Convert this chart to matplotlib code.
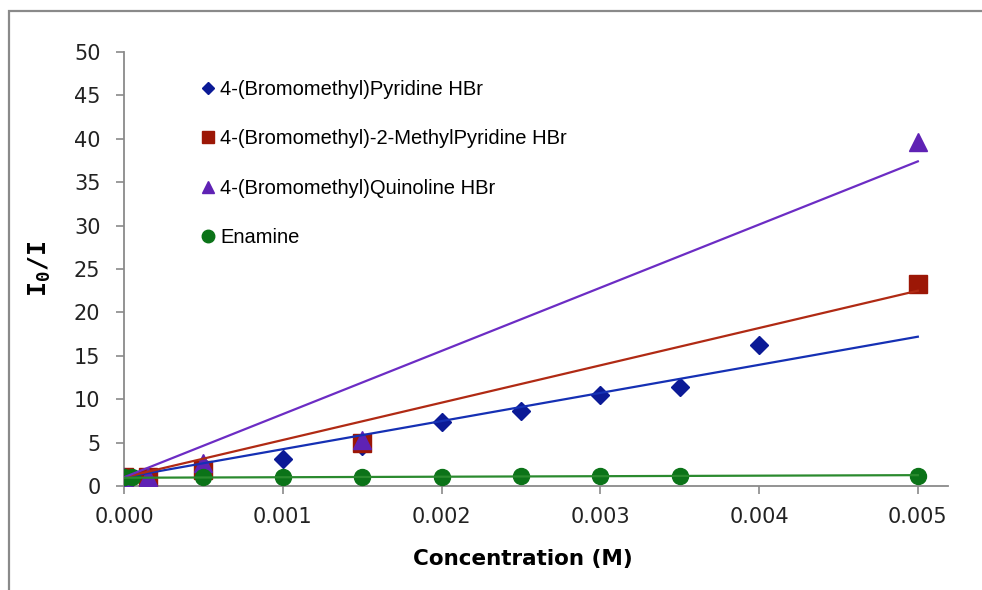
import matplotlib.pyplot as plt
from matplotlib.lines import Line2D
from matplotlib.patches import Rectangle

# data (concentration in M, I0/I)
pyr_x = [0.0, 0.00015, 0.0005, 0.001, 0.0015, 0.002, 0.0025, 0.003, 0.0035, 0.004]
pyr_y = [1.0, 1.1, 2.3, 3.1, 4.6, 7.4, 8.6, 10.5, 11.4, 16.2]

mpyr_x = [0.0, 0.00015, 0.0005, 0.0015, 0.005]
mpyr_y = [1.0, 1.0, 1.8, 5.0, 23.3]

quin_x = [0.0, 0.00015, 0.0005, 0.0015, 0.005]
quin_y = [1.0, 1.0, 2.6, 5.3, 39.6]

ena_x = [0.0, 0.00005, 0.0005, 0.001, 0.0015, 0.002, 0.0025, 0.003, 0.0035, 0.005]
ena_y = [1.0, 1.0, 1.0, 1.05, 1.05, 1.05, 1.1, 1.15, 1.15, 1.2]

# linear trendlines, endpoints
trend_x = [0.0, 0.005]
pyr_trend = [1.0, 17.2]
mpyr_trend = [1.0, 22.5]
quin_trend = [1.0, 37.4]
ena_trend = [0.95, 1.25]

labels = ["4-(Bromomethyl)Pyridine HBr",
          "4-(Bromomethyl)-2-MethylPyridine HBr",
          "4-(Bromomethyl)Quinoline HBr",
          "Enamine"]

blue, blue_l = "#0b1a96", "#1530b4"
red, red_l = "#9c1706", "#b02a14"
purple, purple_l = "#5f22b4", "#6c2cc4"
green, green_l = "#0b7318", "#2a8a2e"
grey = "#8a8a8a"

plt.rcParams["mathtext.fontset"] = "custom"
plt.rcParams["mathtext.tt"] = "DejaVu Sans Mono:bold"

fig = plt.figure(figsize=(9.82, 5.90), dpi=100)
ax = fig.add_axes([124/982, 1 - 486/590, (948-124)/982, (486-52)/590])

# outer frame of the chart area
fig.patches.append(Rectangle((9/982, -0.05), 1.2, 1 - 11/590 + 0.05, transform=fig.transFigure,
                             fill=False, edgecolor=grey, linewidth=1.6))

ax.plot(pyr_x, pyr_y, "D", color=blue, ms=9, mec=blue, zorder=3)
ax.plot(mpyr_x, mpyr_y, "s", color=red, ms=12.5, mec=red, zorder=3)
ax.plot(quin_x, quin_y, "^", color=purple, ms=13, mec=purple, zorder=3)
ax.plot(ena_x, ena_y, "o", color=green, ms=11.5, mec=green, zorder=3)

ax.plot(trend_x, pyr_trend, color=blue_l, lw=1.6, zorder=4)
ax.plot(trend_x, mpyr_trend, color=red_l, lw=1.6, zorder=4)
ax.plot(trend_x, quin_trend, color=purple_l, lw=1.6, zorder=4)
ax.plot(trend_x, ena_trend, color=green_l, lw=1.6, zorder=4)

ax.set_xlim(0, 0.00519)
ax.set_ylim(0, 50)
ax.set_xticks([0, 0.001, 0.002, 0.003, 0.004, 0.005])
ax.set_xticklabels(["%.3f" % v for v in ax.get_xticks()])
ax.set_yticks(range(0, 51, 5))

for s in ["top", "right"]:
    ax.spines[s].set_visible(False)
for s in ["left", "bottom"]:
    ax.spines[s].set_color(grey)
    ax.spines[s].set_linewidth(1.3)
ax.tick_params(colors=grey, labelcolor="#222222", length=6, width=1.2, labelsize=15)
ax.tick_params(axis="y", pad=11)
ax.tick_params(axis="x", pad=9)

ax.set_xlabel("Concentration (M)", fontsize=15.5, fontweight="bold")
ax.xaxis.set_label_coords((523 - 124) / (948 - 124), -(549 - 486) / (486 - 52))
ax.set_ylabel(r"$\mathtt{I_0/I}$", fontsize=18)
ax.yaxis.set_label_coords(-(124 - 53) / (948 - 124), 0.5)

handles = [
    Line2D([], [], ls="none", marker="D", color=blue, ms=6),
    Line2D([], [], ls="none", marker="s", color=red, ms=9),
    Line2D([], [], ls="none", marker="^", color=purple, ms=9),
    Line2D([], [], ls="none", marker="o", color=green, ms=9),
]
ax.legend(handles, labels, loc="upper left", bbox_to_anchor=(0.085, 0.955), frameon=False,
          prop={"family": "Liberation Sans", "size": 14.5}, labelspacing=1.52,
          handlelength=0.6, handletextpad=0.3, borderaxespad=0)

fig.savefig("out.png", dpi=100)
